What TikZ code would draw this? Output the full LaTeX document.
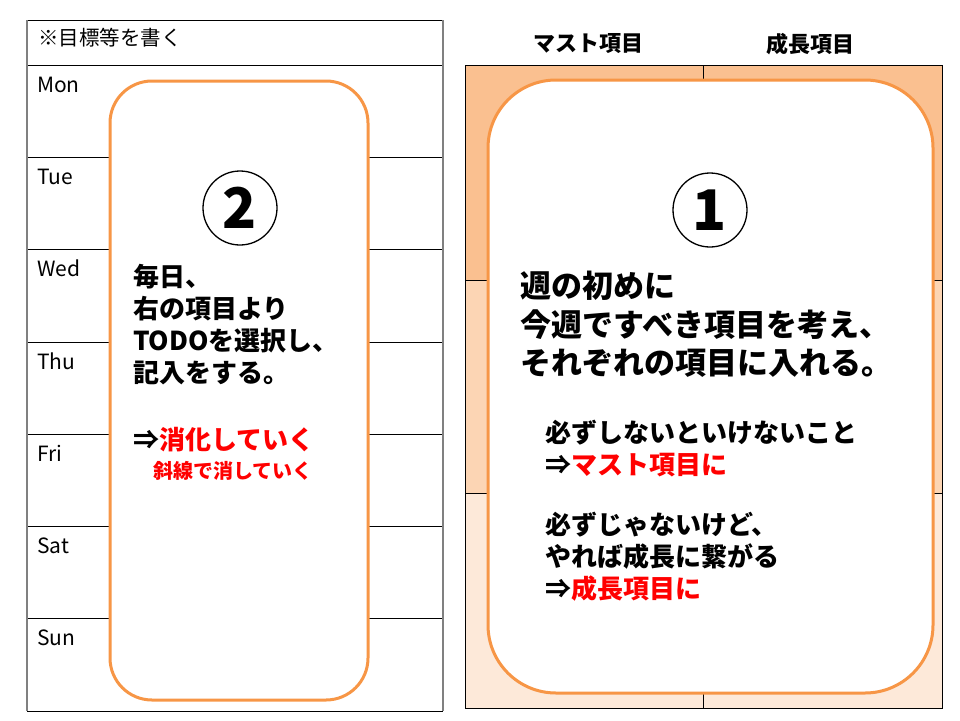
\documentclass[tikz,border=0pt]{standalone}
\usepackage{fontspec}
\setmainfont{Noto Sans CJK JP}
\usepackage{tikz}
\usetikzlibrary{positioning}
\definecolor{cardorange}{HTML}{F79646}
\definecolor{bandA}{HTML}{FAC090}
\definecolor{bandB}{HTML}{FCD5B4}
\definecolor{bandC}{HTML}{FDE9D9}
\definecolor{todored}{HTML}{FF0000}

\begin{document}
\begin{tikzpicture}[x=1pt, y=-1pt,
  card/.style={draw=cardorange, line width=3pt, fill=white},
  daylabel/.style={anchor=base west, inner sep=0, font=\fontsize{21}{21}\selectfont},
  numcircle/.style={circle, draw, line width=1.3pt, minimum size=74pt, inner sep=0,
    font=\fontsize{56}{56}\selectfont\bfseries},
  memo/.style={anchor=north west, inner sep=0, align=left,
    font=\fontsize{26}{32}\selectfont\bfseries}]
  \useasboundingbox (0,0) rectangle (960,720);

  % Weekly table (left)
  \foreach \y in {20,65,157,249,342,434,526,618,711}
    \draw[line width=0.8pt] (27,\y) -- (443,\y);
  \draw[gray, line width=1.5pt] (27,20) -- (27,711) (443,20) -- (443,711);
  \node[anchor=west, inner sep=0, font=\fontsize{20.5}{20.5}\selectfont] (goal) at (38,38) {※目標等を書く};
  \foreach \d/\y in {Mon/65,Tue/157,Wed/249,Thu/342,Fri/434,Sat/526,Sun/618}
    \node[daylabel] (\d) at (37,\y+27) {\d};

  % Item table (right)
  \fill[bandA] (465,65) rectangle (942,280);
  \fill[bandB] (465,280) rectangle (942,493);
  \fill[bandC] (465,493) rectangle (942,708);
  \draw[line width=0.6pt] (465,280) -- (942,280) (465,493) -- (942,493);
  \draw[line width=0.8pt] (465,65) rectangle (942,708);
  \draw[line width=0.8pt] (703,65) -- (703,708);
  \node[font=\fontsize{22}{22}\selectfont\bfseries] (must) at (588,44) {マスト項目};
  \node[font=\fontsize{22}{22}\selectfont\bfseries] (grow) at (810,44) {成長項目};

  % Cards
  \node[card, rounded corners=42pt, minimum width=258pt, minimum height=619pt] (daycard) at (239,390.5) {};
  \node[card, rounded corners=68pt, minimum width=445pt, minimum height=613pt] (weekcard) at (710.5,386.5) {};

  % Card 2
  \node[numcircle] (num2) at (240,208) {2};
  \node[memo] (daytext) at (133,264) {毎日、\\右の項目より\\TODOを選択し、\\記入をする。};
  \node[memo] (dayarrow) at (133,427) {⇒\textcolor{todored}{消化していく}};
  \node[memo, font=\fontsize{20}{20}\selectfont\bfseries, text=todored] (daynote) at (153,461) {斜線で消していく};

  % Card 1
  \node[numcircle] (num1) at (710,210) {1};
  \node[memo, font=\fontsize{31}{38.5}\selectfont\bfseries] (weektext) at (520,271) {週の初めに\\今週ですべき項目を考え、\\それぞれの項目に入れる。};
  \node[memo, font=\fontsize{26}{32}\selectfont\bfseries] (weekrule) at (545,420) {必ずしないといけないこと\\⇒\textcolor{todored}{マスト項目に}\\[28pt]必ずじゃないけど、\\やれば成長に繋がる\\⇒\textcolor{todored}{成長項目に}};
\end{tikzpicture}
\end{document}
